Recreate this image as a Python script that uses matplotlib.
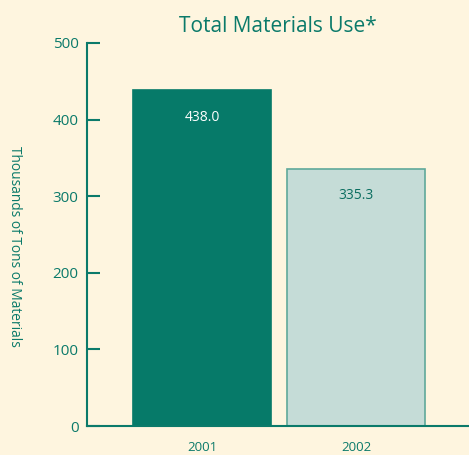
import numpy as np
import matplotlib
matplotlib.use("Agg")
import matplotlib.pyplot as plt

plt.rcParams["font.family"] = ["Open Sans", "DejaVu Sans"]

# data
years = ["2001", "2002"]
tons = [438.0, 335.3]
bar_colors = ["#067a69", "#c5dcd7"]
edge_colors = ["#067a69", "#5fa99a"]
label_colors = ["white", "#0b6e60"]

bg = "#fef5df"
ink = "#0b7a6a"

fig = plt.figure(figsize=(4.69, 4.55), dpi=100, facecolor=bg)
ax = fig.add_axes([0.1855, 0.0637, 0.8145, 0.8418], facecolor=bg)

x = np.arange(len(years))
bars = ax.bar(x, tons, width=0.896, color=bar_colors, edgecolor=edge_colors, linewidth=1.2)

for b, v, c in zip(bars, tons, label_colors):
    ax.text(b.get_x() + b.get_width() / 2, v - 35, "%.1f" % v, ha="center", va="center",
            fontsize=10, color=c)

ax.set_xlim(-0.747, 1.734)
ax.set_ylim(0, 500)
ax.set_yticks([0, 100, 200, 300, 400, 500])
ax.set_xticks(x)
ax.set_xticklabels(years)

for s in ["top", "right"]:
    ax.spines[s].set_visible(False)
for s in ["left", "bottom"]:
    ax.spines[s].set_color(ink)
    ax.spines[s].set_linewidth(1.5)

ax.tick_params(axis="y", direction="in", length=9, width=1.5, color=ink, labelcolor=ink,
               labelsize=11, pad=6)
ax.tick_params(axis="x", length=0, labelcolor=ink, labelsize=9.5, pad=11)

ax.set_ylabel("Thousands of Tons of Materials", rotation=-90, color=ink, fontsize=9.9,
              labelpad=0)
ax.yaxis.set_label_coords(-0.21, 0.47)
ax.set_title("Total Materials Use*", color=ink, fontsize=15, fontweight=500, pad=8)

fig.savefig("out.png", dpi=100, facecolor=bg)
